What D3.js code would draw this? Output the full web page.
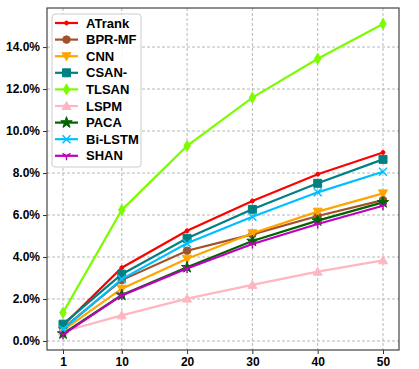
<!DOCTYPE html>
<html>
<head>
<meta charset="utf-8">
<script src="https://cdn.jsdelivr.net/npm/d3@7"></script>
<style>
  body { margin: 0; background: #fff; }
  text { font-family: "Liberation Sans", Arial, sans-serif; font-weight: bold; }
</style>
</head>
<body>
<div id="chart"></div>
<script>
// data
var xValues = [1, 10, 20, 30, 40, 50];
var seriesNames = ["ATrank", "BPR-MF", "CNN", "CSAN-", "TLSAN", "LSPM", "PACA", "Bi-LSTM", "SHAN"];
var atrank = [0.74, 3.49, 5.25, 6.67, 7.94, 8.98];
var bprmf  = [0.60, 2.90, 4.30, 5.08, 5.95, 6.71];
var cnn    = [0.50, 2.49, 3.92, 5.13, 6.16, 7.03];
var csan   = [0.80, 3.18, 4.89, 6.27, 7.51, 8.65];
var tlsan  = [1.35, 6.24, 9.29, 11.59, 13.44, 15.10];
var lspm   = [0.45, 1.22, 2.02, 2.67, 3.30, 3.84];
var paca   = [0.35, 2.19, 3.51, 4.76, 5.73, 6.60];
var bilstm = [0.55, 2.95, 4.65, 5.92, 7.08, 8.06];
var shan   = [0.30, 2.17, 3.45, 4.62, 5.57, 6.44];
var yTicks = [0, 2, 4, 6, 8, 10, 12, 14];

var allSeries = [atrank, bprmf, cnn, csan, tlsan, lspm, paca, bilstm, shan];
var colors = ["#ff0000", "#a0522d", "#ffa500", "#008080", "#7cfc00", "#ffb6c1", "#006400", "#00bfff", "#bf00bf"];
var markers = ["point", "circle", "tdown", "square", "thin", "tup", "star", "x", "tri"];

var width = 419, height = 369;
var margin = { top: 8, right: 20, bottom: 19, left: 47 };
var w = width - margin.left - margin.right,
    h = height - margin.top - margin.bottom;

var scalex = d3.scaleLinear().domain([-1.45, 52.45]).range([0, w]);
var scaley = d3.scaleLinear().domain([-0.43, 15.86]).range([h, 0]);

var svg = d3.select("#chart").append("svg")
    .attr("width", width)
    .attr("height", height)
    .append("g")
    .attr("transform", "translate(" + margin.left + "," + margin.top + ")");

// grid
svg.append("g").selectAll("line.gx")
    .data(xValues).enter().append("line")
    .attr("x1", function (d) { return scalex(d); })
    .attr("x2", function (d) { return scalex(d); })
    .attr("y1", 0).attr("y2", h)
    .attr("stroke", "#b0b0b0").attr("stroke-width", 0.9)
    .attr("stroke-dasharray", "3,2");
svg.append("g").selectAll("line.gy")
    .data(yTicks).enter().append("line")
    .attr("y1", function (d) { return scaley(d); })
    .attr("y2", function (d) { return scaley(d); })
    .attr("x1", 0).attr("x2", w)
    .attr("stroke", "#b0b0b0").attr("stroke-width", 0.9)
    .attr("stroke-dasharray", "3,2");

// axes
var xAxis = svg.append("g")
    .attr("transform", "translate(0," + h + ")")
    .call(d3.axisBottom(scalex).tickValues(xValues).tickSize(4).tickPadding(3));
var yAxis = svg.append("g")
    .call(d3.axisLeft(scaley).tickValues(yTicks).tickSize(4).tickPadding(3)
        .tickFormat(function (d) { return d.toFixed(1) + "%"; }));
[xAxis, yAxis].forEach(function (a) {
    a.select(".domain").remove();
    a.selectAll(".tick line").attr("stroke", "#333");
    a.selectAll("text").attr("fill", "#000").style("font-size", "12px")
        .style("font-family", "'Liberation Sans', Arial, sans-serif").style("font-weight", "bold");
});

// frame
svg.append("rect").attr("width", w).attr("height", h)
    .attr("fill", "none").attr("stroke", "#444").attr("stroke-width", 1.2);

function markerPath(type) {
    switch (type) {
        case "point": return d3.symbol(d3.symbolCircle, 12)();
        case "circle": return d3.symbol(d3.symbolCircle, 45)();
        case "square": return "M-4,-4H4V4H-4Z";
        case "tdown": return "M-4.5,-3.5L4.5,-3.5L0,4.5Z";
        case "tup": return "M-4.5,3.5L4.5,3.5L0,-4.5Z";
        case "thin": return "M0,-5.5L3.2,0L0,5.5L-3.2,0Z";
        case "star": return d3.symbol(d3.symbolStar, 40)();
        case "x": return "M-4,-4L4,4M-4,4L4,-4";
        case "tri": return "M0,0L0,4.5M0,0L-4,-2.5M0,0L4,-2.5";
    }
}
function isStroke(type) { return type === "x" || type === "tri"; }

var valueline = d3.line()
    .x(function (d, i) { return scalex(xValues[i]); })
    .y(function (d) { return scaley(d); });

allSeries.forEach(function (s, k) {
    var g = svg.append("g");
    g.append("path")
        .datum(s)
        .attr("d", valueline)
        .attr("fill", "none")
        .attr("stroke", colors[k])
        .attr("stroke-width", 2.2);
    g.selectAll("path.m")
        .data(s).enter().append("path")
        .attr("class", "m")
        .attr("transform", function (d, i) { return "translate(" + scalex(xValues[i]) + "," + scaley(d) + ")"; })
        .attr("d", markerPath(markers[k]))
        .attr("fill", isStroke(markers[k]) ? "none" : colors[k])
        .attr("stroke", colors[k])
        .attr("stroke-width", isStroke(markers[k]) ? 1.5 : 1);
});

// legend
var legend = svg.append("g").attr("transform", "translate(5,6)");
legend.append("rect")
    .attr("width", 89).attr("height", 153).attr("rx", 3)
    .attr("fill", "#fff").attr("fill-opacity", 0.85)
    .attr("stroke", "#ccc").attr("stroke-width", 1);
seriesNames.forEach(function (name, k) {
    var yy = 9 + k * 16.6;
    var item = legend.append("g").attr("transform", "translate(0," + yy + ")");
    item.append("line").attr("x1", 3).attr("x2", 26).attr("y1", 0).attr("y2", 0)
        .attr("stroke", colors[k]).attr("stroke-width", 2.2);
    item.append("path")
        .attr("transform", "translate(14.5,0)")
        .attr("d", markerPath(markers[k]))
        .attr("fill", isStroke(markers[k]) ? "none" : colors[k])
        .attr("stroke", colors[k])
        .attr("stroke-width", isStroke(markers[k]) ? 1.5 : 1);
    item.append("text").attr("x", 34).attr("y", 0).attr("dy", "0.36em")
        .style("font-size", "13px").text(name);
});
</script>
</body>
</html>
